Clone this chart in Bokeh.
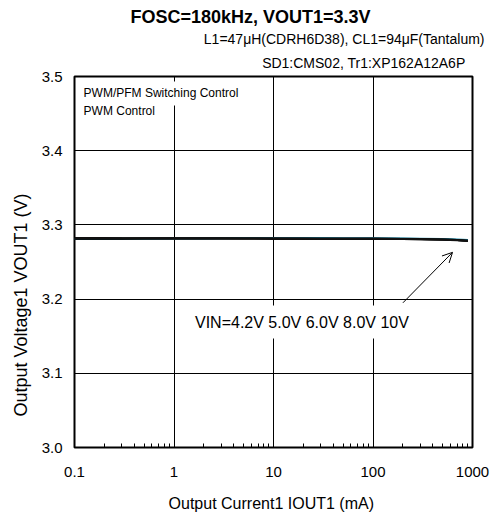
from bokeh.plotting import figure
from bokeh.models import Label, Arrow, OpenHead, FixedTicker, NumeralTickFormatter, Title
from bokeh.embed import file_html
from bokeh.resources import INLINE

# ---- data ----
iout = [0.1, 0.2, 0.3, 0.5, 1, 2, 3, 5, 10, 20, 30, 50, 100, 200, 300, 500, 700, 900]
vout_42 = [3.2825, 3.2823, 3.2820, 3.2818, 3.2820, 3.2820, 3.2820, 3.2819, 3.2818, 3.2817, 3.2816, 3.2815, 3.2813, 3.2812, 3.2810, 3.2805, 3.2798, 3.2790]
vout_50 = [3.2810, 3.2811, 3.2813, 3.2815, 3.2817, 3.2818, 3.2820, 3.2822, 3.2824, 3.2823, 3.2822, 3.2821, 3.2820, 3.2818, 3.2815, 3.2810, 3.2803, 3.2795]
vout_60 = [3.2818, 3.2818, 3.2817, 3.2817, 3.2818, 3.2818, 3.2818, 3.2817, 3.2816, 3.2815, 3.2815, 3.2814, 3.2813, 3.2811, 3.2809, 3.2804, 3.2797, 3.2788]
vout_80 = [3.2815, 3.2815, 3.2815, 3.2816, 3.2817, 3.2817, 3.2817, 3.2816, 3.2815, 3.2814, 3.2814, 3.2813, 3.2812, 3.2810, 3.2808, 3.2803, 3.2795, 3.2786]
vout_10 = [3.2820, 3.2820, 3.2819, 3.2819, 3.2819, 3.2819, 3.2819, 3.2818, 3.2817, 3.2816, 3.2815, 3.2814, 3.2812, 3.2810, 3.2807, 3.2801, 3.2793, 3.2783]

series_names = ["4.2V", "5.0V", "6.0V", "8.0V", "10V"]
series_vals = [vout_42, vout_50, vout_60, vout_80, vout_10]
series_colors = ["#000000", "#1a8fb0", "#2a2a2a", "#000000", "#111111"]

x_ticks = [0.1, 1, 10, 100, 1000]
y_ticks = [3.0, 3.1, 3.2, 3.3, 3.4, 3.5]

title_text = "FOSC=180kHz, VOUT1=3.3V"
sub1_text = "L1=47μH(CDRH6D38), CL1=94μF(Tantalum)"
sub2_text = "SD1:CMS02, Tr1:XP162A12A6P"
x_label = "Output Current1  IOUT1 (mA)"
y_label = "Output Voltage1  VOUT1 (V)"
note1 = "PWM/PFM Switching Control"
note2 = "PWM  Control"
vin_text = "VIN=4.2V 5.0V 6.0V 8.0V 10V"

FONT = "Liberation Sans"

p = figure(width=490, height=514, x_axis_type="log",
           x_range=(0.1, 1000), y_range=(3.0, 3.5),
           output_backend="svg", toolbar_location=None,
           min_border_left=72, min_border_right=18,
           min_border_top=76, min_border_bottom=66)

p.background_fill_color = "white"
p.border_fill_color = "white"
p.outline_line_color = "black"
p.outline_line_width = 2

# grid
p.xgrid.grid_line_color = "black"
p.ygrid.grid_line_color = "black"
p.xgrid.grid_line_width = 1
p.ygrid.grid_line_width = 1

minor = [m * d for d in [0.1, 1, 10, 100] for m in range(2, 10)]
p.xaxis.ticker = FixedTicker(ticks=x_ticks, minor_ticks=minor)
p.yaxis.ticker = FixedTicker(ticks=y_ticks)
p.xaxis.formatter = NumeralTickFormatter(format="0.[0]")
p.yaxis.formatter = NumeralTickFormatter(format="0.0")

for ax in (p.xaxis, p.yaxis):
    ax.axis_line_color = None
    ax.major_tick_line_color = None
    ax.major_tick_in = 0
    ax.major_tick_out = 0
    ax.major_label_text_font = FONT
    ax.major_label_text_font_size = "15px"
    ax.major_label_text_color = "black"
    ax.axis_label_text_font = FONT
    ax.axis_label_text_font_style = "normal"
    ax.axis_label_text_color = "black"

p.xaxis.minor_tick_line_color = "black"
p.xaxis.minor_tick_line_width = 1
p.xaxis.minor_tick_in = 4
p.xaxis.minor_tick_out = 0
p.yaxis.minor_tick_line_color = None
p.yaxis.minor_tick_in = 0
p.yaxis.minor_tick_out = 0

p.xaxis.axis_label = x_label
p.xaxis.axis_label_text_font_size = "16px"
p.xaxis.major_label_standoff = 19
p.yaxis.major_label_standoff = 12
p.xaxis.axis_label_standoff = 15

# y axis title placed as a left-side title (shifted down like the reference)
p.add_layout(Title(text=y_label, align="left", offset=31, standoff=16,
                   text_font=FONT, text_font_size="18px", text_font_style="normal",
                   text_color="black"), "left")

# series
for name, vals, col in zip(series_names, series_vals, series_colors):
    p.line(iout, vals, line_color=col, line_width=2)

# titles
p.title.visible = False
p.add_layout(Title(text=sub2_text, align="right", offset=7, standoff=12,
                   text_font=FONT, text_font_size="14px", text_font_style="normal",
                   text_color="black"), "above")
p.add_layout(Title(text=sub1_text, align="right", offset=-12, standoff=0,
                   text_font=FONT, text_font_size="14px", text_font_style="normal",
                   text_color="black"), "above")
p.add_layout(Title(text=title_text, align="left", offset=56, standoff=4,
                   text_font=FONT, text_font_size="18px", text_font_style="bold",
                   text_color="black"), "above")

# notes inside
p.add_layout(Label(x=0.11, y=3.4772, text=note1, text_align="left", text_baseline="middle",
                   text_font=FONT, text_font_size="12px", text_color="black",
                   background_fill_color="white", padding=5))
p.add_layout(Label(x=0.11, y=3.453, text=note2, text_align="left", text_baseline="middle",
                   text_font=FONT, text_font_size="12px", text_color="black",
                   background_fill_color="white", padding=5))
p.add_layout(Label(x=1.35, y=3.169, text=vin_text, text_align="left", text_baseline="middle",
                   text_font=FONT, text_font_size="16px", text_color="black",
                   background_fill_color="white", padding=8))
p.add_layout(Arrow(end=OpenHead(size=10, line_width=1, line_color="black"),
                   x_start=200, y_start=3.195, x_end=630, y_end=3.263,
                   line_width=1, line_color="black"))

open("out.html", "w").write(file_html(p, INLINE))
